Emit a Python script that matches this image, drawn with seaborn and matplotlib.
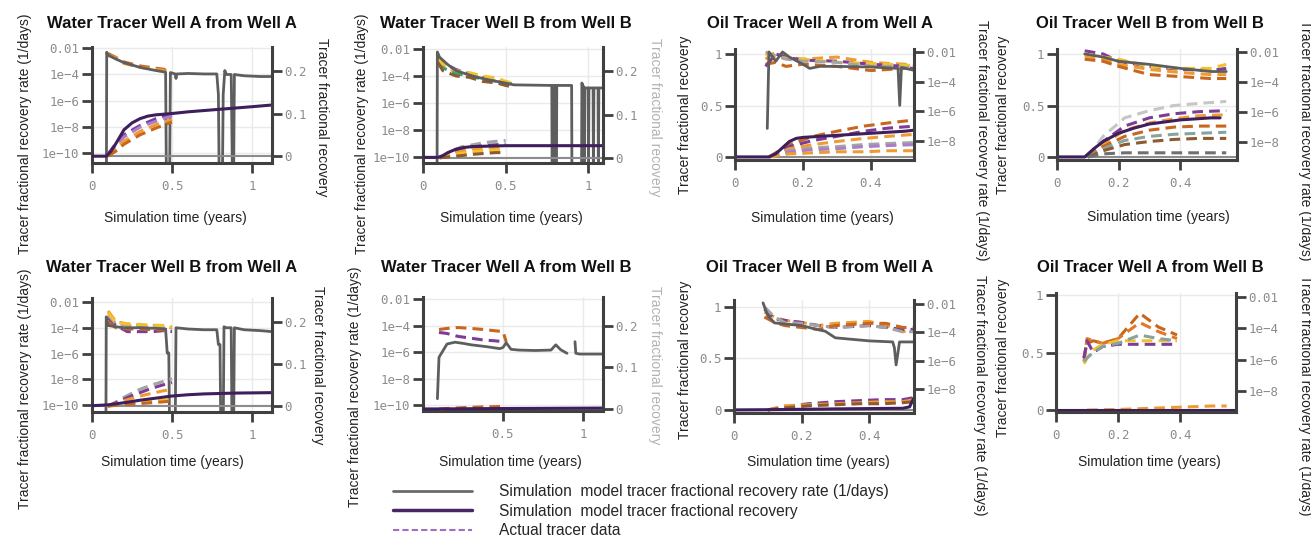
import matplotlib
matplotlib.use("Agg")
import matplotlib.pyplot as plt
from matplotlib.lines import Line2D
from matplotlib.ticker import NullLocator
import seaborn as sns

# ------------------------------------------------------------------
# values
# rate = simulated fractional recovery rate (1/days), cum = fractional recovery
# 1e-12 marks the places where the simulated rate drops to zero (off the log axis)
# ------------------------------------------------------------------

# Water Tracer Well A from Well A
waa_rate_t = [0, 0.09, 0.092, 0.1, 0.15, 0.2, 0.3, 0.4, 0.46, 0.465, 0.485, 0.49, 0.5, 0.52, 0.525, 0.53,
              0.6, 0.7, 0.78, 0.79, 0.795, 0.815, 0.82, 0.83, 0.84, 0.87, 0.878, 0.885, 0.89, 0.95, 1.05, 1.125]
waa_rate = [1e-12, 1e-12, 5e-3, 3e-3, 1.5e-3, 8e-4, 3.5e-4, 2e-4, 1.5e-4, 1e-12, 1e-12, 1.4e-4, 1.3e-4, 1.1e-4, 5e-5, 1.1e-4,
            1.2e-4, 1.1e-4, 1.1e-4, 3e-6, 1e-12, 1e-12, 3e-6, 2e-4, 1e-4, 1e-4, 1e-12, 1e-12, 1e-4, 8e-5, 7e-5, 7e-5]
waa_cum_t = [0, 0.09, 0.12, 0.15, 0.2, 0.25, 0.3, 0.35, 0.4, 0.5, 0.6, 0.8, 1.0, 1.125]
waa_cum = [0, 0, 0.012, 0.03, 0.062, 0.078, 0.088, 0.094, 0.097, 0.1, 0.104, 0.11, 0.116, 0.12]
waa_obs_rate_t = [0.1, 0.15, 0.2, 0.3, 0.4, 0.45, 0.48]
waa_obs_rate = [[4e-3, 2e-3, 9e-4, 4.5e-4, 3e-4, 2.5e-4, 1.3e-4],
                [3e-3, 1.8e-3, 7e-4, 3.5e-4, 2.5e-4, 2e-4, 1.2e-4]]
waa_obs_cum_t = [0.1, 0.15, 0.2, 0.3, 0.4, 0.5]
waa_obs_cum = [[0.005, 0.03, 0.05, 0.072, 0.088, 0.1],
               [0.003, 0.025, 0.045, 0.068, 0.082, 0.095],
               [0, 0.018, 0.035, 0.058, 0.074, 0.086],
               [0, 0.012, 0.028, 0.05, 0.066, 0.08]]

# Water Tracer Well B from Well B
wbb_rate_t = [0, 0.085, 0.087, 0.1, 0.15, 0.2, 0.3, 0.4, 0.5, 0.55, 0.78, 0.782, 0.788, 0.79, 0.8, 0.802, 0.808, 0.81,
              0.9, 0.902, 0.96, 0.962, 0.975, 0.977, 0.98, 1.0, 1.002, 1.005, 1.03, 1.032, 1.035, 1.06, 1.062, 1.065, 1.09]
wbb_rate = [1e-12, 1e-12, 6e-3, 2.5e-3, 7e-4, 2.5e-4, 1e-4, 5e-5, 3e-5, 2.2e-5, 2e-5, 1e-12, 1e-12, 2e-5, 2e-5, 1e-12, 1e-12, 2e-5,
            2e-5, 1e-12, 1e-12, 3e-5, 1.3e-5, 1e-12, 1.3e-5, 1.3e-5, 1e-12, 1.3e-5, 1.3e-5, 1e-12, 1.3e-5, 1.3e-5, 1e-12, 1.3e-5, 1.3e-5]
wbb_cum_t = [0, 0.09, 0.12, 0.15, 0.2, 0.25, 0.3, 0.4, 0.5, 0.7, 1.09]
wbb_cum = [0.001, 0.001, 0.005, 0.012, 0.02, 0.024, 0.026, 0.027, 0.028, 0.028, 0.028]
wbb_obs_rate_t = [0.09, 0.12, 0.2, 0.28, 0.36, 0.45, 0.5, 0.55]
wbb_obs_rate = [[3e-3, 1e-3, 3e-4, 1.5e-4, 8e-5, 4e-5, 3e-5, 2.5e-5],
                [1.5e-3, 5e-4, 2e-4, 1.2e-4, 7e-5, 5e-5, 3e-5, 2e-5],
                [8e-4, 4e-4, 1.5e-4, 1e-4, 6e-5, 4e-5, 2.5e-5, 3e-5],
                [2e-3, 8e-4, 2.5e-4, 1.8e-4, 1e-4, 7e-5, 4e-5, 3e-5],
                [1e-3, 2.5e-4, 1e-4, 8e-5, 4e-5, 3e-5, 2e-5, 1.5e-5]]
wbb_obs_cum_t = [0.1, 0.15, 0.23, 0.3, 0.37, 0.44, 0.5]
wbb_obs_cum = [[0, 0.01, 0.025, 0.03, 0.035, 0.038, 0.04],
               [0, 0.008, 0.02, 0.025, 0.028, 0.03, 0.032],
               [0, 0.006, 0.015, 0.02, 0.022, 0.024, 0.025],
               [0, 0.004, 0.01, 0.014, 0.016, 0.018, 0.02],
               [0, 0.002, 0.005, 0.008, 0.01, 0.012, 0.012]]

# Oil Tracer Well A from Well A
oaa_rate_t = [0.095, 0.1, 0.12, 0.14, 0.16, 0.2, 0.22, 0.25, 0.3, 0.4, 0.48, 0.485, 0.49, 0.53]
oaa_rate = [7e-8, 1e-2, 2.4e-3, 1e-2, 4.5e-3, 1.5e-3, 7.8e-4, 1.07e-3, 1.07e-3, 9.7e-4, 7.8e-4, 2.5e-6, 9e-4, 5.6e-4]
oaa_cum_t = [0, 0.1, 0.12, 0.14, 0.16, 0.18, 0.2, 0.25, 0.3, 0.35, 0.4, 0.45, 0.5, 0.527]
oaa_cum = [0, 0, 0.03, 0.09, 0.15, 0.18, 0.19, 0.2, 0.21, 0.22, 0.23, 0.24, 0.25, 0.26]
oaa_obs_rate_t = [0.09, 0.12, 0.15, 0.2, 0.3, 0.4, 0.45, 0.5, 0.53]
oaa_obs_rate = [[3.3e-3, 1e-2, 4.5e-3, 3.3e-3, 4.5e-3, 2e-3, 1.7e-3, 1.5e-3, 1.07e-3],
                [1.5e-3, 2e-3, 1.07e-3, 1.5e-3, 1.07e-3, 5.6e-4, 6.6e-4, 7.8e-4, 9e-4],
                [1.07e-3, 7.3e-3, 4.5e-3, 2.8e-3, 2.4e-3, 1.5e-3, 1.26e-3, 1.07e-3, 6.6e-4],
                [7.3e-3, 4.5e-3, 3.9e-3, 3.3e-3, 2e-3, 1.7e-3, 1.5e-3, 1.26e-3, 1.26e-3],
                [1e-2, 5.3e-3, 3.3e-3, 2.4e-3, 2e-3, 1.07e-3, 1.07e-3, 9e-4, 9e-4]]
oaa_obs_cum_t = [0.1, 0.16, 0.23, 0.3, 0.38, 0.45, 0.53]
oaa_obs_cum = [[0, 0.12, 0.2, 0.25, 0.3, 0.33, 0.36],
               [0, 0.1, 0.16, 0.2, 0.25, 0.28, 0.3],
               [0, 0.08, 0.12, 0.15, 0.18, 0.2, 0.22],
               [0, 0.06, 0.09, 0.1, 0.12, 0.13, 0.14],
               [0, 0.05, 0.07, 0.08, 0.1, 0.11, 0.12],
               [0, 0.03, 0.04, 0.05, 0.05, 0.06, 0.06]]

# Oil Tracer Well B from Well B
obb_rate_t = [0.09, 0.15, 0.2, 0.3, 0.4, 0.5, 0.55]
obb_rate = [7.4e-3, 4.6e-3, 2.4e-3, 1.5e-3, 8.1e-4, 5e-4, 5e-4]
obb_cum_t = [0, 0.09, 0.12, 0.15, 0.2, 0.25, 0.3, 0.4, 0.5, 0.53]
obb_cum = [0, 0, 0.08, 0.15, 0.23, 0.28, 0.32, 0.36, 0.38, 0.38]
obb_obs_rate_t = [0.09, 0.15, 0.2, 0.3, 0.4, 0.5, 0.55]
obb_obs_rate = [[1.2e-2, 7.4e-3, 2.4e-3, 1.1e-3, 6.9e-4, 5.9e-4, 8.1e-4],
                [5.4e-3, 3.3e-3, 1.5e-3, 6.9e-4, 4.3e-4, 3.1e-4, 3.1e-4],
                [3.3e-3, 2.4e-3, 1.1e-3, 3.1e-4, 2.3e-4, 1.7e-4, 1.7e-4],
                [7.4e-3, 4.6e-3, 3.3e-3, 1.1e-3, 8.1e-4, 8.1e-4, 1.5e-3]]
obb_obs_cum_t = [0.1, 0.15, 0.22, 0.3, 0.38, 0.46, 0.55]
obb_obs_cum = [[0, 0.2, 0.38, 0.45, 0.5, 0.52, 0.54],
               [0, 0.15, 0.3, 0.38, 0.42, 0.44, 0.45],
               [0, 0.12, 0.26, 0.33, 0.37, 0.4, 0.41],
               [0, 0.1, 0.2, 0.26, 0.29, 0.3, 0.3],
               [0, 0.08, 0.16, 0.2, 0.22, 0.23, 0.24],
               [0, 0.06, 0.12, 0.15, 0.17, 0.18, 0.18],
               [0, 0.03, 0.04, 0.04, 0.04, 0.04, 0.04]]

# Water Tracer Well B from Well A
wba_rate_t = [0, 0.087, 0.089, 0.1, 0.15, 0.2, 0.3, 0.4, 0.46, 0.47, 0.48, 0.485, 0.52, 0.525, 0.6,
              0.7, 0.78, 0.79, 0.8, 0.805, 0.82, 0.825, 0.84, 0.87, 0.875, 0.885, 0.89, 0.95, 1.05, 1.125]
wba_rate = [1e-12, 1e-12, 7e-4, 1.5e-4, 1.2e-4, 1e-4, 1e-4, 9e-5, 8e-5, 1.1e-6, 1.1e-6, 1e-12, 1e-12, 1e-4, 8e-5,
            7e-5, 7e-5, 5e-6, 5e-6, 1e-12, 1e-12, 1.2e-4, 1e-4, 1e-4, 1e-12, 1e-12, 1e-4, 7e-5, 6e-5, 5e-5]
wba_cum_t = [0, 0.1, 0.2, 0.3, 0.4, 0.5, 0.6, 0.7, 0.9, 1.125]
wba_cum = [0.001, 0.003, 0.008, 0.014, 0.019, 0.024, 0.027, 0.029, 0.031, 0.032]
wba_obs_rate_t = [0.1, 0.15, 0.22, 0.3, 0.38, 0.45, 0.5]
wba_obs_rate = [[2e-3, 3e-4, 2e-4, 1.5e-4, 1.5e-4, 1.3e-4, 1e-4],
                [6e-4, 1.5e-4, 5e-5, 5e-5, 5e-5, 6e-5, 5e-5],
                [1e-3, 2e-4, 1.5e-4, 1.2e-4, 1.2e-4, 1e-4, 8e-5],
                [3e-4, 1e-4, 8e-5, 8e-5, 7e-5, 7e-5, 6e-5],
                [1.5e-3, 2.5e-4, 2e-4, 1.8e-4, 1.6e-4, 1.5e-4, 1.2e-4]]
wba_obs_cum_t = [0.1, 0.15, 0.22, 0.3, 0.37, 0.44, 0.5]
wba_obs_cum = [[0, 0.01, 0.025, 0.04, 0.05, 0.058, 0.065],
               [0, 0.008, 0.02, 0.032, 0.042, 0.05, 0.056],
               [0, 0.006, 0.015, 0.024, 0.03, 0.036, 0.04],
               [0, 0.003, 0.006, 0.01, 0.012, 0.014, 0.016],
               [0, 0.002, 0.004, 0.006, 0.008, 0.01, 0.012]]

# Water Tracer Well A from Well B (simulated rate has a gap near 0.93)
wab_rate_t = [0.09, 0.1, 0.15, 0.2, 0.25, 0.3, 0.4, 0.48, 0.5, 0.52, 0.55, 0.6, 0.7, 0.8, 0.83, 0.86, 0.9]
wab_rate = [3e-10, 4e-7, 4e-6, 5.5e-6, 4.5e-6, 3.5e-6, 2.5e-6, 1.8e-6, 2.2e-6, 5e-6, 1.6e-6, 1.4e-6, 1.3e-6, 1.4e-6, 3.5e-6, 1.5e-6, 8e-7]
wab_rate2_t = [0.95, 0.955, 0.98, 1.125]
wab_rate2 = [6e-6, 8e-7, 7e-7, 7e-7]
wab_cum_t = [0, 0.1, 0.5, 1.125]
wab_cum = [0, 0, 0.001, 0.002]
wab_obs_rate_t = [0.1, 0.15, 0.22, 0.3, 0.38, 0.45, 0.5, 0.52]
wab_obs_rate = [[5e-5, 6e-5, 7e-5, 6e-5, 5e-5, 4e-5, 3.5e-5, 6e-6],
                [3e-5, 2.5e-5, 1.5e-5, 1.1e-5, 8e-6, 7e-6, 6e-6, 5e-6]]
wab_obs_cum_t = [0.1, 0.2, 0.3, 0.4, 0.5, 0.52]
wab_obs_cum = [[0, 0.002, 0.004, 0.005, 0.006, 0.006]]

# Oil Tracer Well B from Well A
oba_rate_t = [0.086, 0.1, 0.12, 0.2, 0.25, 0.27, 0.3, 0.4, 0.47, 0.475, 0.48, 0.485, 0.49, 0.533]
oba_rate = [1.2e-2, 1.5e-3, 4.6e-4, 3e-4, 1.5e-4, 1.2e-4, 4.1e-5, 2.5e-5, 2.1e-5, 8e-6, 5e-7, 3e-6, 2.1e-5, 2.1e-5]
oba_cum_t = [0, 0.1, 0.2, 0.3, 0.4, 0.5, 0.52, 0.533]
oba_cum = [0, 0.002, 0.006, 0.01, 0.013, 0.016, 0.03, 0.12]
oba_obs_rate_t = [0.09, 0.12, 0.15, 0.2, 0.25, 0.3, 0.4, 0.45, 0.5, 0.53]
oba_obs_rate = [[2.7e-3, 1.2e-3, 7e-4, 5e-4, 3e-4, 4.3e-4, 5.9e-4, 3e-4, 1.1e-4, 1.6e-4],
                [4.4e-3, 8.3e-4, 7e-4, 5e-4, 3e-4, 2.2e-4, 3e-4, 2.2e-4, 1.6e-4, 1.6e-4],
                [6.2e-3, 1.2e-3, 5e-4, 4.3e-4, 3e-4, 2.2e-4, 3e-4, 2.2e-4, 1.1e-4, 1.1e-4],
                [1.2e-3, 5e-4, 3e-4, 2.2e-4, 1.6e-4, 3e-4, 4.3e-4, 4.3e-4, 2.2e-4, 2.2e-4]]
oba_obs_cum_t = [0.1, 0.15, 0.22, 0.3, 0.37, 0.44, 0.5, 0.533]
oba_obs_cum = [[0, 0.03, 0.06, 0.08, 0.09, 0.1, 0.1, 0.12],
               [0, 0.04, 0.05, 0.06, 0.07, 0.08, 0.08, 0.1],
               [0, 0.02, 0.04, 0.05, 0.06, 0.06, 0.07, 0.08]]

# Oil Tracer Well A from Well B (no simulated rate visible)
oab_cum_t = [0, 0.58]
oab_cum = [0, 0]
oab_obs_rate_t = [0.09, 0.1, 0.12, 0.15, 0.2, 0.27, 0.33, 0.39]
oab_obs_rate = [[1.26e-6, 1.1e-5, 1.6e-5, 1.1e-5, 2.2e-5, 9.1e-4, 1.2e-4, 3.7e-5],
                [7.6e-7, 2.2e-5, 1.6e-5, 1.1e-5, 2.2e-5, 2.3e-4, 6.1e-5, 2.2e-5],
                [1.26e-6, 1.6e-5, 2.9e-6, 6.8e-6, 9.5e-6, 9.5e-6, 9.5e-6, 9.5e-6],
                [5.4e-7, 1.26e-6, 4.1e-6, 9.5e-6, 1.6e-5, 1.6e-5, 1.6e-5, 1.6e-5],
                [7.6e-7, 1.26e-6, 2.9e-6, 6.8e-6, 1.1e-5, 3.7e-5, 2.2e-5, 1.6e-5]]
oab_obs_cum_t = [0.1, 0.2, 0.3, 0.4, 0.5, 0.55]
oab_obs_cum = [[0, 0.005, 0.015, 0.025, 0.035, 0.035]]

titles = ["Water Tracer Well A from Well A", "Water Tracer Well B from Well B",
          "Oil Tracer Well A from Well A", "Oil Tracer Well B from Well B",
          "Water Tracer Well B from Well A", "Water Tracer Well A from Well B",
          "Oil Tracer Well B from Well A", "Oil Tracer Well A from Well B"]
legend_labels = ["Simulation  model tracer fractional recovery rate (1/days)",
                 "Simulation  model tracer fractional recovery",
                 "Actual tracer data"]
rate_label = "Tracer fractional recovery rate (1/days)"
cum_label = "Tracer fractional recovery"
x_label = "Simulation time (years)"

# ------------------------------------------------------------------
# styling
# ------------------------------------------------------------------
ORANGE, DORANGE, PURPLE, LILAC = "#EE9C32", "#C9661D", "#7D3C98", "#A97FCB"
YELLOW, GRAY, LGRAY, BROWN = "#F2C22E", "#A4A4A4", "#C6C6C6", "#8E5A2E"
GREEN, DGRAY, TEAL = "#33A57A", "#6F6F6F", "#86A3A0"
SIM_RATE, SIM_CUM = "#5E5E5E", "#3E1E5C"
SPINE, TICKLAB, GRID = "#404040", "#8C8C8C", "#EAEAEA"
MONO = "DejaVu Sans Mono"
DASH = (0, (3.5, 2))
LOGLAB = {1e-2: "0.01", 1e-4: "1e\u22124", 1e-6: "1e\u22126", 1e-8: "1e\u22128", 1e-10: "1e\u221210"}

W, H = 1311, 537
panels = [
    dict(kind="water", box=(92, 272, 47, 163), xlim=(0, 1.125), xt=[0, 0.5, 1], xl=["0", "0.5", "1"],
         loglim=(-10.76, -1.9), linlim=(-0.016, 0.256),
         rate=[(waa_rate_t, waa_rate)], cum=(waa_cum_t, waa_cum),
         obs_rate=(waa_obs_rate_t, waa_obs_rate, [DORANGE, ORANGE]),
         obs_cum=(waa_obs_cum_t, waa_obs_cum, [PURPLE, LILAC, ORANGE, DORANGE])),
    dict(kind="water", box=(423, 603, 47, 163), xlim=(0, 1.09), xt=[0, 0.5, 1], xl=["0", "0.5", "1"],
         loglim=(-10.45, -1.85), linlim=(-0.012, 0.256),
         rate=[(wbb_rate_t, wbb_rate)], cum=(wbb_cum_t, wbb_cum),
         obs_rate=(wbb_obs_rate_t, wbb_obs_rate, [PURPLE, ORANGE, GREEN, YELLOW, BROWN]),
         obs_cum=(wbb_obs_cum_t, wbb_obs_cum, [GRAY, PURPLE, ORANGE, YELLOW, BROWN])),
    dict(kind="oil", box=(735, 914, 49, 160), xlim=(0, 0.527), xt=[0, 0.2, 0.4], xl=["0", "0.2", "0.4"],
         loglim=(-9.28, -1.8), linlim=(-0.03, 1.05),
         rate=[(oaa_rate_t, oaa_rate)], cum=(oaa_cum_t, oaa_cum),
         obs_rate=(oaa_obs_rate_t, oaa_obs_rate, [ORANGE, DORANGE, PURPLE, YELLOW, GRAY]),
         obs_cum=(oaa_obs_cum_t, oaa_obs_cum, [DORANGE, PURPLE, ORANGE, GRAY, LILAC, ORANGE])),
    dict(kind="oil", box=(1057, 1237, 49, 160), xlim=(0, 0.585), xt=[0, 0.2, 0.4], xl=["0", "0.2", "0.4"],
         loglim=(-9.2, -1.8), linlim=(-0.03, 1.05),
         rate=[(obb_rate_t, obb_rate)], cum=(obb_cum_t, obb_cum),
         obs_rate=(obb_obs_rate_t, obb_obs_rate, [PURPLE, ORANGE, DORANGE, YELLOW]),
         obs_cum=(obb_obs_cum_t, obb_obs_cum, [LGRAY, PURPLE, ORANGE, DORANGE, TEAL, BROWN, DGRAY])),
    dict(kind="water", box=(92, 272, 298, 412), xlim=(0, 1.125), xt=[0, 0.5, 1], xl=["0", "0.5", "1"],
         loglim=(-10.54, -1.69), linlim=(-0.014, 0.257),
         rate=[(wba_rate_t, wba_rate)], cum=(wba_cum_t, wba_cum),
         obs_rate=(wba_obs_rate_t, wba_obs_rate, [ORANGE, PURPLE, GRAY, DORANGE, YELLOW]),
         obs_cum=(wba_obs_cum_t, wba_obs_cum, [GRAY, PURPLE, ORANGE, YELLOW, DORANGE])),
    dict(kind="water", box=(423, 603, 297, 411), xlim=(0, 1.125), xt=[0.5, 1], xl=["0.5", "1"],
         loglim=(-10.45, -1.85), linlim=(-0.005, 0.27),
         rate=[(wab_rate_t, wab_rate), (wab_rate2_t, wab_rate2)], cum=(wab_cum_t, wab_cum),
         obs_rate=(wab_obs_rate_t, wab_obs_rate, [DORANGE, PURPLE]),
         obs_cum=(wab_obs_cum_t, wab_obs_cum, [DORANGE])),
    dict(kind="oil", box=(734, 914, 300, 413), xlim=(0, 0.533), xt=[0, 0.2, 0.4], xl=["0", "0.2", "0.4"],
         loglim=(-9.69, -1.72), linlim=(-0.03, 1.068),
         rate=[(oba_rate_t, oba_rate)], cum=(oba_cum_t, oba_cum),
         obs_rate=(oba_obs_rate_t, oba_obs_rate, [ORANGE, PURPLE, GRAY, DORANGE]),
         obs_cum=(oba_obs_cum_t, oba_obs_cum, [PURPLE, ORANGE, BROWN])),
    dict(kind="oil", box=(1056, 1236, 293, 412), xlim=(0, 0.58), xt=[0, 0.2, 0.4], xl=["0", "0.2", "0.4"],
         loglim=(-9.34, -1.75), linlim=(-0.017, 1.017),
         rate=[], cum=(oab_cum_t, oab_cum),
         obs_rate=(oab_obs_rate_t, oab_obs_rate, [DORANGE, "#E0782A", PURPLE, YELLOW, TEAL]),
         obs_cum=(oab_obs_cum_t, oab_obs_cum, [ORANGE])),
]

# text positions (pixel centres): title, x label, left y label, right y label
text_pos = [
    ((172, 23), (175, 218), (25, 134), (322, 117)),
    ((506, 23), (511, 218), (362, 134), (655, 117)),
    ((820, 23), (822, 218), (685, 115), (982, 140)),
    ((1150, 23), (1158, 217), (1003, 115), (1305, 140)),
    ((172, 268), (172, 462), (25, 389), (318, 365)),
    ((506, 268), (510, 462), (355, 387), (655, 365)),
    ((820, 268), (818, 462), (685, 360), (980, 395)),
    ((1150, 268), (1149, 462), (1003, 358), (1305, 395)),
]

sns.set_theme(style="white")
plt.rcParams["font.family"] = ["Liberation Sans", "DejaVu Sans"]

fig = plt.figure(figsize=(W / 100, H / 100), dpi=100)


def fx(x):
    return x / W


def fy(y):
    return 1 - y / H


def draw_line(axis, t, v, color, lw, ls="-"):
    sns.lineplot(x=t, y=v, ax=axis, color=color, lw=lw, linestyle=ls,
                 estimator=None, sort=False, legend=False)


for i, p in enumerate(panels):
    x0, x1, y0, y1 = p["box"]
    ax = fig.add_axes([fx(x0), fy(y1), (x1 - x0) / W, (y1 - y0) / H])
    ax2 = ax.twinx()
    water = p["kind"] == "water"
    ax_rate, ax_cum = (ax, ax2) if water else (ax2, ax)
    ax_rate.set_yscale("log")

    ax_cum.axhline(0, color="#8C8C8C", lw=1.5, zorder=1)
    t, series, cols = p["obs_cum"]
    for vals, col in zip(series, cols):
        draw_line(ax_cum, t, vals, col, 2.2, DASH)
    draw_line(ax_cum, p["cum"][0], p["cum"][1], SIM_CUM, 2.2)
    t, series, cols = p["obs_rate"]
    for vals, col in zip(series, cols):
        draw_line(ax_rate, t, vals, col, 2.2, DASH)
    for rt, rv in p["rate"]:
        draw_line(ax_rate, rt, rv, SIM_RATE, 2.0)

    ax.set_xlim(*p["xlim"])
    ax_rate.set_ylim(10 ** p["loglim"][0], 10 ** p["loglim"][1])
    ax_cum.set_ylim(*p["linlim"])

    lt = [1e-2, 1e-4, 1e-6, 1e-8, 1e-10] if water else [1e-2, 1e-4, 1e-6, 1e-8]
    ax_rate.set_yticks(lt, labels=[LOGLAB[v] for v in lt], fontfamily=MONO)
    ax_rate.yaxis.set_minor_locator(NullLocator())
    if water:
        ax_cum.set_yticks([0, 0.1, 0.2], labels=["0", "0.1", "0.2"], fontfamily=MONO)
    else:
        ax_cum.set_yticks([0, 0.5, 1], labels=["0", "0.5", "1"], fontfamily=MONO)
    ax.set_xticks(p["xt"], labels=p["xl"], fontfamily=MONO)
    ax.xaxis.set_minor_locator(NullLocator())

    ax.grid(True, color=GRID, lw=1)
    ax2.grid(False)
    for a in (ax, ax2):
        a.set_xlabel("")
        a.set_ylabel("")
        a.spines["top"].set_visible(False)
        for s in ("left", "right", "bottom"):
            a.spines[s].set_color(SPINE)
            a.spines[s].set_linewidth(2.2)
    ax.spines["right"].set_visible(False)
    ax2.spines["left"].set_visible(False)
    ax2.spines["bottom"].set_visible(False)
    ax.tick_params(axis="both", which="major", direction="out", length=7, width=2, color=SPINE,
                   labelcolor=TICKLAB, labelsize=9, left=True, bottom=True, pad=2)
    ax.tick_params(axis="x", pad=5)
    ax2.tick_params(axis="y", which="major", direction="out", length=7, width=2, color=SPINE,
                    labelcolor=TICKLAB, labelsize=9, right=True, left=False, pad=2)

    (tx, ty), (lx, ly), (yl_x, yl_y), (yr_x, yr_y) = text_pos[i]
    fig.text(fx(tx), fy(ty), titles[i], ha="center", va="center", fontsize=12, fontweight="bold", color="#111111")
    fig.text(fx(lx), fy(ly), x_label, ha="center", va="center", fontsize=10, color="#222222")
    left_lab, right_lab = (rate_label, cum_label) if water else (cum_label, rate_label)
    fig.text(fx(yl_x), fy(yl_y), left_lab, rotation=90, ha="center", va="center", fontsize=10, color="#222222")
    faded = 0.35 if i in (1, 5) else 1.0
    fig.text(fx(yr_x), fy(yr_y), right_lab, rotation=270, ha="center", va="center", fontsize=10,
             color="#222222", alpha=faded)

handles = [Line2D([], [], color="#6B6B6B", lw=2),
           Line2D([], [], color="#4A2566", lw=2.5),
           Line2D([], [], color="#9C72C0", lw=1.5, linestyle=(0, (3, 1.5)))]
fig.legend(handles, legend_labels, loc="upper left", bbox_to_anchor=(fx(393), fy(484)), frameon=False,
           fontsize=11.2, handlelength=5.1, handletextpad=1.7, labelspacing=0.3, borderpad=0, borderaxespad=0)

fig.savefig("out.png", dpi=100)
